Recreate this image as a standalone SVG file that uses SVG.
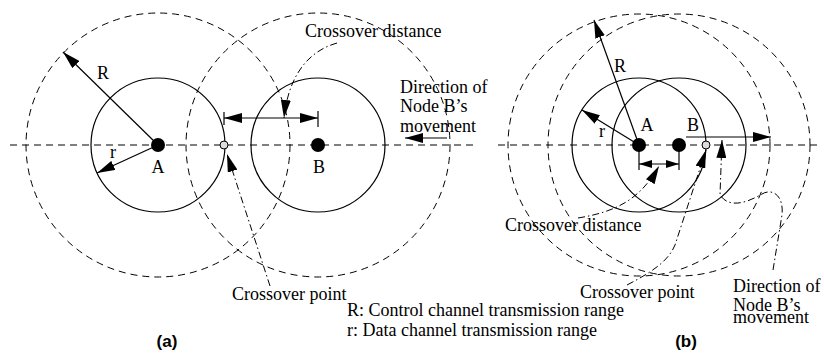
<svg xmlns="http://www.w3.org/2000/svg" width="824" height="356" viewBox="0 0 824 356">
<style>
.dsh{fill:none;stroke:#000;stroke-width:1;stroke-dasharray:7 5}
.sol{fill:none;stroke:#000;stroke-width:1.2}
.ln{fill:none;stroke:#000;stroke-width:1.2}
.dd{fill:none;stroke:#000;stroke-width:1;stroke-dasharray:7 3 1.5 3}
.node{fill:#000}
.xp{fill:#ddd;stroke:#000;stroke-width:1}
text{font-family:"Liberation Serif","Times New Roman",serif;font-size:18px;fill:#000}
.cap{font-family:"Liberation Sans",Arial,sans-serif;font-weight:bold;font-size:17px}
</style>
<defs>
<marker id="ah" viewBox="0 0 18 10" markerWidth="18" markerHeight="10" refX="18" refY="5" orient="auto-start-reverse" markerUnits="userSpaceOnUse"><path d="M0,0 L18,5 L0,10 z" fill="#000"/></marker>
<marker id="ahs" viewBox="0 0 13 8" markerWidth="13" markerHeight="8" refX="13" refY="4" orient="auto-start-reverse" markerUnits="userSpaceOnUse"><path d="M0,0 L13,4 L0,8 z" fill="#000"/></marker>
</defs>

<g id="panel-a">
  <line class="dsh" x1="10" y1="145" x2="475" y2="145"/>
  <g id="a-nodeA">
    <circle class="dsh" cx="158" cy="145" r="132"/>
    <circle class="sol" cx="158" cy="145" r="67"/>
    <circle class="node" cx="158" cy="145" r="7"/>
    <text x="158" y="173" text-anchor="middle">A</text>
  </g>
  <g id="a-nodeB">
    <circle class="dsh" cx="318" cy="145" r="132"/>
    <circle class="sol" cx="318" cy="145" r="67"/>
    <circle class="node" cx="318" cy="145" r="7"/>
    <text x="319" y="173" text-anchor="middle">B</text>
  </g>
  <g id="a-crosspoint">
    <circle class="xp" cx="224" cy="145" r="4"/>
  </g>
  <g id="a-connectors">
    <line class="ln" x1="158" y1="145" x2="63" y2="52" marker-end="url(#ah)"/>
    <line class="ln" x1="158" y1="145" x2="97" y2="173" marker-end="url(#ah)"/>
    <line class="ln" x1="224" y1="112" x2="224" y2="125"/>
    <line class="ln" x1="318" y1="111" x2="318" y2="127"/>
    <line class="ln" x1="224" y1="118" x2="318" y2="118" marker-start="url(#ah)" marker-end="url(#ah)"/>
    <line class="ln" x1="447" y1="138" x2="405" y2="138" marker-end="url(#ah)"/>
    <path class="dd" d="M337 43 C305 52 288 80 284 118" marker-end="url(#ah)"/>
    <path class="dd" d="M270 286 L227 154" marker-end="url(#ah)"/>
  </g>
  <text x="103" y="79" text-anchor="middle">R</text>
  <text x="113" y="158" text-anchor="middle">r</text>
  <text x="305" y="37">Crossover distance</text>
  <text x="400" y="93">Direction of</text>
  <text x="400" y="112">Node B’s</text>
  <text x="400" y="132">movement</text>
  <text x="232" y="300">Crossover point</text>
  <text class="cap" x="167" y="347" text-anchor="middle">(a)</text>
</g>

<g id="legend">
  <text x="347" y="316">R: Control channel transmission range</text>
  <text x="347" y="336">r: Data channel transmission range</text>
</g>

<g id="panel-b">
  <line class="dsh" x1="498" y1="145" x2="818" y2="145"/>
  <g id="b-nodeA">
    <circle class="dsh" cx="639" cy="145" r="131"/>
    <circle class="sol" cx="639" cy="145" r="67"/>
    <circle class="node" cx="639" cy="145" r="7"/>
    <text x="647" y="131" text-anchor="middle">A</text>
  </g>
  <g id="b-nodeB">
    <circle class="dsh" cx="679" cy="145" r="131"/>
    <circle class="sol" cx="679" cy="145" r="67"/>
    <circle class="node" cx="679" cy="145" r="7"/>
    <text x="693" y="131" text-anchor="middle">B</text>
  </g>
  <g id="b-crosspoint">
    <circle class="xp" cx="706" cy="145" r="4"/>
  </g>
  <g id="b-connectors">
    <line class="ln" x1="639" y1="145" x2="594" y2="20" marker-end="url(#ah)"/>
    <line class="ln" x1="639" y1="145" x2="582" y2="110" marker-end="url(#ah)"/>
    <line class="ln" x1="686" y1="137" x2="771" y2="137" marker-end="url(#ah)"/>
    <line class="ln" x1="639" y1="150" x2="639" y2="170"/>
    <line class="ln" x1="679" y1="150" x2="679" y2="170"/>
    <line class="ln" x1="639" y1="164" x2="679" y2="164" marker-start="url(#ahs)" marker-end="url(#ahs)"/>
    <path class="dd" d="M578 218 C615 212 640 200 659 166" marker-end="url(#ah)"/>
    <path class="dd" d="M627 285 C650 273 668 262 675 245 L706 150" marker-end="url(#ah)"/>
    <path class="dd" d="M773 270 L782 215 C784 195 772 188 762 194 C750 201 730 210 720 195 L722 140" marker-end="url(#ah)"/>
  </g>
  <text x="620" y="72" text-anchor="middle">R</text>
  <text x="602" y="137" text-anchor="middle">r</text>
  <text x="505" y="231">Crossover distance</text>
  <text x="580" y="298">Crossover point</text>
  <text x="733" y="292">Direction of</text>
  <text x="733" y="311">Node B’s</text>
  <text x="733" y="323">movement</text>
  <text class="cap" x="686" y="347" text-anchor="middle">(b)</text>
</g>
</svg>
